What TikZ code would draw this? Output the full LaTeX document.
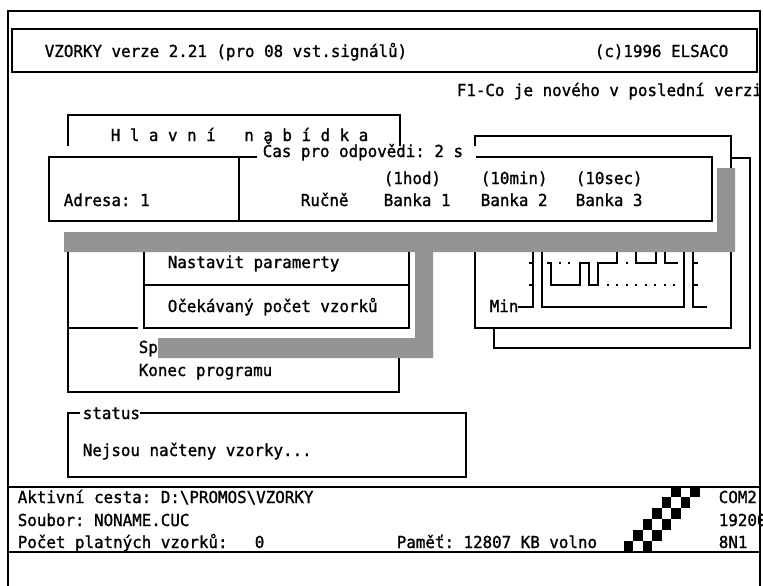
\documentclass[tikz,border=0pt]{standalone}
\usepackage{fontspec}
\setmonofont{DejaVu Sans Mono}[FakeStretch = 0.96, FakeBold = 1.2]

\begin{document}
\begin{tikzpicture}[x = 1pt, y = -1pt, line width = 1.6pt,
  txt/.style = {font = \ttfamily\fontsize{16.5}{18}\selectfont, anchor = base west, inner sep = 0pt},
  hatch/.style = {fill = black!42}]
\useasboundingbox[fill = white] (0, 0) rectangle (763, 586);
\draw (8, 586) -- (8, 11) -- (760, 11) -- (760, 586);
\draw (12, 29) rectangle (757, 72);
\draw (8, 487) -- (760, 487);
\draw (8, 552) -- (760, 552);
\draw (68, 146) -- (68, 115) -- (400, 115) -- (400, 146);
\draw (731, 158) -- (750, 158) -- (750, 348) -- (494, 348) -- (494, 328);
\draw (475, 146) -- (475, 136) -- (731, 136) -- (731, 168);
\draw (475, 252) -- (475, 328) -- (731, 328) -- (731, 252);
\draw (257, 157) -- (49, 157) -- (49, 221) -- (712, 221) -- (712, 157) -- (476, 157);
\draw (239, 157) -- (239, 221);
\fill[hatch] (717, 168) -- (735, 168) -- (735, 252) -- (64, 252) -- (64, 232) -- (717, 232) -- cycle;
\draw (68, 252) -- (68, 392) -- (399, 392) -- (399, 358);
\draw (68, 328) -- (138, 328);
\draw (144, 252) -- (144, 328) -- (409, 328) -- (409, 252);
\draw (144, 285) -- (409, 285);
\fill[hatch] (415, 252) -- (433, 252) -- (433, 358) -- (158, 358) -- (158, 338) -- (415, 338) -- cycle;
\draw (80, 413) -- (68, 413) -- (68, 477) -- (466, 477) -- (466, 413) -- (140, 413);
\draw (518, 307) -- (533, 307) -- (533, 252);
\draw (529, 263) -- (533, 263);
\draw (529, 285) -- (533, 285);
\draw (542, 252) -- (542, 307) -- (684, 307) -- (684, 252);
\draw (693, 252) -- (693, 307) -- (707, 307);
\draw (693, 263) -- (698, 263);
\draw (693, 285) -- (698, 285);
\draw (547, 263) -- (551, 263) -- (551, 285) -- (580, 285) -- (580, 263) -- (589, 263) -- (589, 285) -- (598, 285) -- (598, 263) -- (617, 263) -- (617, 252);
\draw (636, 252) -- (636, 263) -- (656, 263) -- (656, 252);
\draw (665, 252) -- (665, 263) -- (678, 263);
\foreach \x in {560, 569, 627}
  \fill ({\x - 1}, 262) rectangle ++(2, 2);
\foreach \x in {608, 617, 627, 636, 646, 655, 665, 674}
  \fill ({\x - 1}, 284) rectangle ++(2, 2);
\foreach \i in {0, ..., 5} {
  \fill ({671 - 9.5 * \i}, {486 + 11 * \i}) rectangle ++(9.5, 11);
  \fill ({690 - 9.5 * \i}, {486 + 11 * \i}) rectangle ++(9.5, 11);
}
\node[txt] (verze) at (44, 57) {VZORKY verze 2.21 (pro 08 vst.signálů)};
\node[txt] (copy) at (594, 57) {(c)1996 ELSACO};
\node[txt] (novinky) at (456, 96) {F1-Co je nového v poslední verzi};
\node[txt] (nabidka) at (110, 141) {H l a v n í\ \ \ n a b í d k a};
\node[txt] (cas) at (262, 157) {Čas pro odpovědi: 2 s};
\node[txt] (adresa) at (63, 206) {Adresa: 1};
\node[txt] (rucne) at (300, 206) {Ručně};
\node[txt] (hod) at (383, 184) {(1hod)};
\node[txt] (minut) at (480, 184) {(10min)};
\node[txt] (sekund) at (575, 184) {(10sec)};
\node[txt] (banka1) at (383, 206) {Banka 1};
\node[txt] (banka2) at (480, 206) {Banka 2};
\node[txt] (banka3) at (575, 206) {Banka 3};
\node[txt] (nastavit) at (167, 268) {Nastavit paramerty};
\node[txt] (ocekavany) at (167, 312) {Očekávaný počet vzorků};
\node[txt] (spustit) at (138, 353) {Sp};
\node[txt] (konec) at (138, 376) {Konec programu};
\node[txt] (minimum) at (489, 312) {Min};
\node[txt] (status) at (82, 419) {status};
\node[txt] (nejsou) at (82, 456) {Nejsou načteny vzorky...};
\node[txt] (aktivni) at (17, 503) {Aktivní cesta: D:\textbackslash PROMOS\textbackslash VZORKY};
\node[txt] (soubor) at (17, 526) {Soubor: NONAME.CUC};
\node[txt] (platnych) at (17, 548) {Počet platných vzorků:};
\node[txt] (nula) at (254, 548) {0};
\node[txt] (pamet) at (396, 548) {Paměť: 12807 KB volno};
\node[txt] (port) at (718, 503) {COM2};
\node[txt] (baud) at (718, 526) {19200};
\node[txt] (parita) at (718, 548) {8N1};
\end{tikzpicture}
\end{document}
